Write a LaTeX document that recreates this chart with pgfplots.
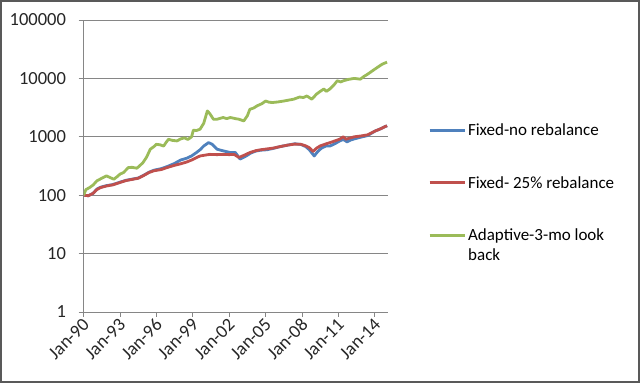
\documentclass[border=0pt]{standalone}
\usepackage{fontspec}
\setmainfont{Carlito}
\usepackage{pgfplots}
\pgfplotsset{compat=1.18}
\definecolor{xblue}{HTML}{4F81BD}
\definecolor{xred}{HTML}{C0504D}
\definecolor{xgreen}{HTML}{9BBB59}
\definecolor{xgrid}{HTML}{868686}
\begin{document}
\begin{tikzpicture}[x=1bp,y=1bp]
\useasboundingbox (0,0) rectangle (640,383);
\fill[white] (0,0) rectangle (640,383);
\draw[line width=2bp, color=black!65] (1,1) rectangle (639,382);
\begin{axis}[
  at={(83.5bp,71bp)}, anchor=south west,
  scale only axis, width=304.5bp, height=292bp,
  clip mode=individual,
  ymode=log, log basis y=10,
  xmin=1990, xmax=2015.08, ymin=1, ymax=100000,
  axis x line*=bottom, axis y line*=left,
  axis line style={-, xgrid, line width=0.8bp},
  xtick={1990,1993,1996,1999,2002,2005,2008,2011,2014},
  xticklabels={Jan-90,Jan-93,Jan-96,Jan-99,Jan-02,Jan-05,Jan-08,Jan-11,Jan-14},
  ytick={1,10,100,1000,10000,100000},
  yticklabels={1,10,100,1000,10000,100000},
  minor tick num=0, yminorticks=false,
  tick align=outside, major tick length=5bp,
  tick style={xgrid, line width=0.8bp},
  ymajorgrids, grid style={xgrid, line width=0.8bp},
  /pgf/number format/assume math mode=true,
  ticklabel style={font=\fontsize{18.5bp}{21bp}\selectfont, text=black!85},
  yticklabel style={xshift=-9bp},
  xticklabel style={rotate=45, anchor=east, xshift=2bp, yshift=-5bp},
  legend style={at={(rel axis cs:1.1216,0.66)}, anchor=north west, draw=none, fill=none,
    font=\fontsize{17bp}{20bp}\selectfont, row sep=35.5bp, cells={anchor=west}},
  legend image code/.code={\draw[#1] (0bp,0bp) -- (35bp,0bp);},
  every axis plot/.append style={line width=2.8bp, line join=round},
]
\addplot[xblue] coordinates {
(1990.0,100) (1990.4,98) (1990.8,108) (1991.1,127) (1991.4,137) (1991.9,146) (1992.4,152)
(1993.0,167) (1993.5,180) (1994.1,190) (1994.5,197) (1994.9,216) (1995.4,248) (1995.8,268)
(1996.4,285) (1996.9,310) (1997.5,350) (1998.0,400) (1998.5,430) (1998.9,470) (1999.3,537)
(1999.6,600) (1999.9,695) (2000.3,795) (2000.6,745) (2001.0,613) (2001.5,575) (2002.1,537)
(2002.5,540) (2002.9,415) (2003.4,470) (2003.8,530) (2004.2,570) (2004.6,590) (2005.1,600)
(2005.6,630) (2006.2,680) (2006.8,720) (2007.4,760) (2007.9,740) (2008.3,680) (2008.6,600)
(2009.0,470) (2009.3,560) (2009.6,640) (2010.0,700) (2010.3,695) (2010.7,760) (2011.1,850)
(2011.4,900) (2011.7,820) (2012.0,880) (2012.3,920) (2012.8,980) (2013.4,1050) (2014.0,1250)
(2014.5,1380) (2015.0,1550)};
\addlegendentry{Fixed-no rebalance}
\addplot[xred] coordinates {
(1990.0,100) (1990.4,98) (1990.8,108) (1991.1,125) (1991.4,135) (1991.9,144) (1992.4,150)
(1993.0,165) (1993.5,178) (1994.1,188) (1994.5,195) (1994.9,214) (1995.4,245) (1995.8,262)
(1996.4,275) (1996.9,298) (1997.5,325) (1998.0,345) (1998.5,370) (1998.9,400) (1999.3,440)
(1999.6,470) (2000.0,485) (2000.4,500) (2001.0,495) (2001.5,500) (2002.0,495) (2002.4,500)
(2002.8,443) (2003.2,480) (2003.7,537) (2004.2,580) (2004.6,600) (2005.1,620) (2005.6,640)
(2006.2,680) (2006.8,720) (2007.4,750) (2007.9,745) (2008.3,700) (2008.6,650) (2008.9,560)
(2009.2,640) (2009.5,700) (2010.0,760) (2010.3,795) (2010.7,850) (2011.1,910) (2011.4,1000)
(2011.6,910) (2012.0,960) (2012.3,1000) (2012.8,1030) (2013.4,1080) (2014.0,1250) (2014.5,1380)
(2015.0,1550)};
\addlegendentry{Fixed- 25\% rebalance}
\addplot[xgreen] coordinates {
(1990.0,100) (1990.2,125) (1990.5,135) (1990.8,150) (1991.1,176) (1991.4,190) (1991.7,205)
(1991.9,214) (1992.2,200) (1992.5,188) (1992.8,210) (1993.0,229) (1993.3,245) (1993.7,298)
(1994.0,300) (1994.4,290) (1994.7,330) (1994.9,362) (1995.2,450) (1995.5,613) (1995.8,680)
(1996.0,744) (1996.3,730) (1996.6,694) (1996.8,800) (1997.0,907) (1997.3,870) (1997.7,850)
(1998.0,920) (1998.3,960) (1998.6,900) (1998.9,1000) (1999.05,1300) (1999.3,1280) (1999.6,1350)
(1999.9,1700) (2000.2,2770) (2000.4,2500) (2000.7,2000) (2001.0,2000) (2001.5,2140) (2001.8,2050)
(2002.1,2140) (2002.5,2050) (2002.8,2000) (2003.2,1870) (2003.5,2300) (2003.7,2960) (2004.0,3100)
(2004.3,3390) (2004.7,3700) (2005.0,4100) (2005.3,3900) (2005.6,3870) (2006.0,3950) (2006.5,4100)
(2006.9,4250) (2007.3,4400) (2007.8,4800) (2008.1,4700) (2008.4,5000) (2008.8,4400) (2009.2,5400)
(2009.5,6000) (2009.8,6600) (2010.0,6000) (2010.3,6600) (2010.6,7600) (2010.9,9100) (2011.2,8700)
(2011.4,9100) (2011.8,9600) (2012.3,10000) (2012.8,9700) (2013.1,10800) (2013.4,11800) (2013.8,13500)
(2014.2,15400) (2014.6,17500) (2015.0,19000)};
\addlegendentry{Adaptive-3-mo look}
\node[anchor=west, font=\fontsize{17bp}{20bp}\selectfont, inner sep=0pt] at (rel axis cs:1.2627,0.195) {back};
\end{axis}
\end{tikzpicture}
\end{document}
